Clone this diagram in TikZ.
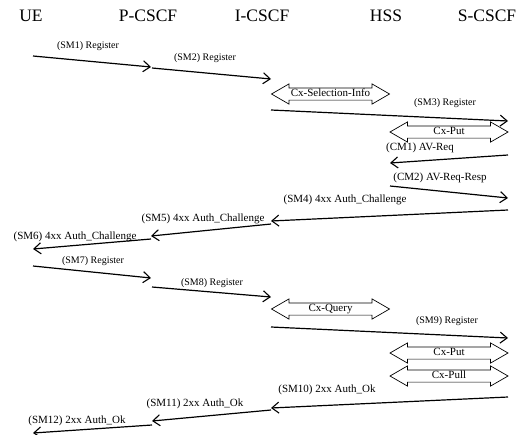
\documentclass[tikz,border=0pt]{standalone}
\usepackage{fontspec}
\setmainfont{Liberation Serif}
\usetikzlibrary{arrows.meta,shapes.arrows}
\begin{document}
\begin{tikzpicture}[x=1pt,y=-1pt,
  hdr/.style={font=\fontsize{17.5}{17.5}\selectfont, inner sep=0pt},
  lbl/.style={font=\fontsize{10}{10}\selectfont, inner sep=0pt},
  lbw/.style={font=\fontsize{11}{11}\selectfont, inner sep=0pt},
  msg/.style={line width=1.2pt, -{Straight Barb[length=7pt,width=11pt,line width=1.1pt]}},
  cx/.style={draw, line width=0.7pt, double arrow, double arrow tip angle=60,
    double arrow head extend=4pt, minimum height=118pt, inner xsep=0pt, inner ysep=1pt,
    text height=7.5pt, text depth=2pt, font=\fontsize{11}{11}\selectfont}
]
\useasboundingbox (0,0) rectangle (524,434);
% headers
\node[hdr] (ue)  at (31,16)  {UE};
\node[hdr] (pc)  at (148,16) {P-CSCF};
\node[hdr] (ic)  at (262,16) {I-CSCF};
\node[hdr] (hss) at (386,16) {HSS};
\node[hdr] (sc)  at (487,16) {S-CSCF};

% SM1
\coordinate (a1) at (33,56);  \coordinate (b1) at (151,67);
\draw[msg] (a1) -- (b1);
\node[lbl] (l1) at (88,46) {(SM1) Register};
% SM2
\coordinate (a2) at (152,68); \coordinate (b2) at (271,79);
\draw[msg] (a2) -- (b2);
\node[lbl] (l2) at (205,58) {(SM2) Register};
% Cx-Selection-Info
\node[cx] (cx1) at (330.5,94) {Cx-Selection-Info};
% SM3
\coordinate (a3) at (271,110); \coordinate (b3) at (508,121);
\draw[msg] (a3) -- (b3);
\node[lbl] (l3) at (445,103) {(SM3) Register};
% Cx-Put
\node[cx] (cx2) at (449,132) {Cx-Put};
% CM1
\coordinate (a4) at (508,155); \coordinate (b4) at (390,163);
\draw[msg] (a4) -- (b4);
\node[lbw] (l4) at (420,148) {(CM1) AV-Req};
% CM2
\coordinate (a5) at (390,186); \coordinate (b5) at (508,198);
\draw[msg] (a5) -- (b5);
\node[lbw] (l5) at (440,178) {(CM2) AV-Req-Resp};
% SM4
\coordinate (a6) at (508,210); \coordinate (b6) at (271,221);
\draw[msg] (a6) -- (b6);
\node[lbw] (l6) at (345,200) {(SM4) 4xx Auth\_Challenge};
% SM5
\coordinate (a7) at (271,224); \coordinate (b7) at (151,236);
\draw[msg] (a7) -- (b7);
\node[lbw] (l7) at (203,219) {(SM5) 4xx Auth\_Challenge};
% SM6
\coordinate (a8) at (151,239); \coordinate (b8) at (33,249);
\draw[msg] (a8) -- (b8);
\node[lbw] (l8) at (75,237) {(SM6) 4xx Auth\_Challenge};
% SM7
\coordinate (a9) at (33,266); \coordinate (b9) at (151,278);
\draw[msg] (a9) -- (b9);
\node[lbl] (l9) at (93,261) {(SM7) Register};
% SM8
\coordinate (a10) at (152,287); \coordinate (b10) at (271,297);
\draw[msg] (a10) -- (b10);
\node[lbl] (l10) at (212,283) {(SM8) Register};
% Cx-Query
\node[cx] (cx3) at (330.5,309) {Cx-Query};
% SM9
\coordinate (a11) at (271,327); \coordinate (b11) at (508,338);
\draw[msg] (a11) -- (b11);
\node[lbl] (l11) at (447,321) {(SM9) Register};
% Cx-Put
\node[cx] (cx4) at (449,353) {Cx-Put};
% Cx-Pull
\node[cx] (cx5) at (449,376) {Cx-Pull};
% SM10
\coordinate (a12) at (508,397); \coordinate (b12) at (271,408);
\draw[msg] (a12) -- (b12);
\node[lbw] (l12) at (327,390) {(SM10) 2xx Auth\_Ok};
% SM11
\coordinate (a13) at (271,410); \coordinate (b13) at (152,421);
\draw[msg] (a13) -- (b13);
\node[lbw] (l13) at (195,404) {(SM11) 2xx Auth\_Ok};
% SM12
\coordinate (a14) at (152,425); \coordinate (b14) at (33,433);
\draw[msg] (a14) -- (b14);
\node[lbw] (l14) at (77,421) {(SM12) 2xx Auth\_Ok};
\end{tikzpicture}
\end{document}
